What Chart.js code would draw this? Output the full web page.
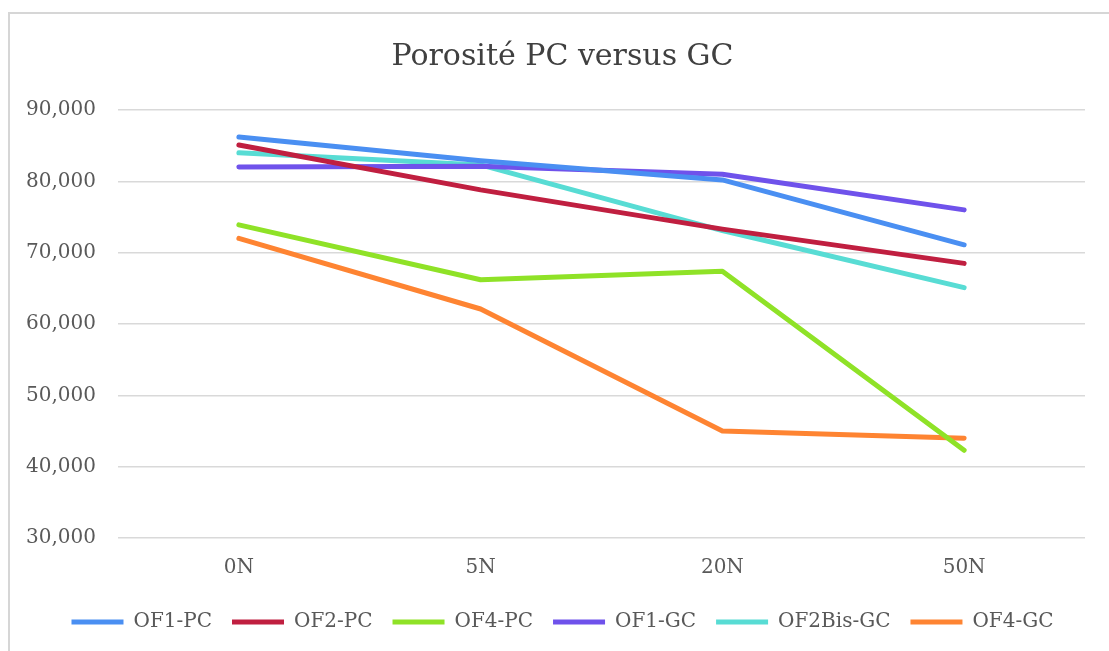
<!DOCTYPE html>
<html>
<head>
<meta charset="utf-8">
<script src="https://cdn.jsdelivr.net/npm/chart.js@4/dist/chart.umd.min.js"></script>
<style>
  html, body { margin: 0; padding: 0; background: #fff; overflow: hidden; }
  #frame {
    position: absolute; left: 8px; top: 12px; width: 1200px; height: 700px;
    border-left: 2px solid #d6d6d6; border-top: 2px solid #d6d6d6;
  }
  #wrap { position: absolute; left: 0; top: 0; width: 1109px; height: 651px; }
</style>
</head>
<body>
<div id="frame"></div>
<div id="wrap"><canvas id="porositeChart" width="1109" height="651"></canvas></div>
<script>
// Charges appliquées
const categories = ["0N", "5N", "20N", "50N"];

// Porosité mesurée pour chaque série
const of1PC = [86.2, 82.9, 80.2, 71.1];
const of2PC = [85.1, 78.8, 73.3, 68.5];
const of4PC = [73.9, 66.2, 67.4, 42.3];
const of1GC = [82.0, 82.1, 81.0, 76.0];
const of2BisGC = [84.0, 82.3, 73.1, 65.1];
const of4GC = [72.0, 62.1, 45.0, 44.0];

const seriesNames = ["OF1-PC", "OF2-PC", "OF4-PC", "OF1-GC", "OF2Bis-GC", "OF4-GC"];
const seriesData = [of1PC, of2PC, of4PC, of1GC, of2BisGC, of4GC];
const seriesColors = ["#4a8ff2", "#c01f40", "#8fe227", "#6f52eb", "#58dcd4", "#fe8432"];

const yTicks = [30, 40, 50, 60, 70, 80, 90];

const police = "'DejaVu Serif', serif";

const ctx = document.getElementById("porositeChart").getContext("2d");

const porositeChart = new Chart(ctx, {
  type: "line",
  data: {
    labels: categories,
    datasets: seriesNames.map((name, i) => ({
      label: name,
      data: seriesData[i],
      borderColor: seriesColors[i],
      backgroundColor: seriesColors[i],
      borderWidth: 5,
      borderCapStyle: "round",
      borderJoinStyle: "round",
      pointRadius: 0,
      pointHoverRadius: 0,
      tension: 0,
      fill: false,
    })),
  },
  options: {
    responsive: false,
    animation: false,
    layout: {
      padding: { left: 40, right: 24, top: 12, bottom: 9 },
    },
    plugins: {
      title: {
        display: true,
        text: "Porosité PC versus GC",
        color: "#404040",
        font: { family: police, size: 30, weight: "normal" },
        padding: { top: 27, bottom: 35 },
      },
      legend: {
        position: "bottom",
        labels: {
          usePointStyle: true,
          pointStyle: "line",
          pointStyleWidth: 52,
          boxHeight: 20,
          padding: 20,
          color: "#595959",
          font: { family: police, size: 20 },
        },
      },
      tooltip: { enabled: false },
    },
    scales: {
      x: {
        offset: true,
        grid: { display: false, drawTicks: false },
        border: { display: false },
        afterFit: (scale) => {
          scale.height -= 6;
        },
        ticks: {
          color: "#595959",
          padding: 18,
          font: { family: police, size: 20 },
        },
      },
      y: {
        min: 30,
        max: 90,
        afterBuildTicks: (scale) => {
          scale.ticks = yTicks.map((v) => ({ value: v }));
        },
        afterFit: (scale) => {
          scale.width = 78;
        },
        grid: { color: "#d9d9d9", lineWidth: 1.5, drawTicks: false },
        border: { display: false },
        ticks: {
          // libellés placés à gauche de la zone de tracé, sans rognage
          mirror: true,
          padding: -92,
          color: "#595959",
          font: { family: police, size: 20 },
          callback: (v) => v.toFixed(3).replace(".", ","),
        },
      },
    },
  },
});
</script>
</body>
</html>
